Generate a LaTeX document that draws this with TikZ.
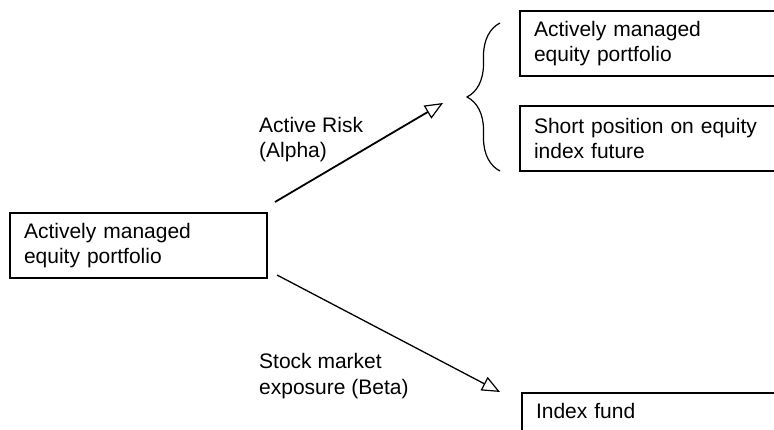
\documentclass[tikz,border=0pt]{standalone}
\usepackage{fontspec}
\setmainfont{Liberation Sans}
\usepackage{tikz}
\usetikzlibrary{arrows.meta,positioning,decorations.pathreplacing}

\begin{document}
\begin{tikzpicture}[
  x=1pt, y=-1pt,
  font=\fontsize{21}{25}\selectfont,
  box/.style={draw, line width=2pt, outer sep=0pt, anchor=north west, minimum height=65pt, minimum width=300pt, inner xsep=14pt, align=left, text width=272pt},
  lbl/.style={anchor=base west, inner sep=0pt, align=left},
  arr/.style={-{Triangle[open, length=18pt, width=15pt, line width=1.2pt]}, line width=1.8pt}
]
  \clip (0,0) rectangle (774,430);
  \node[box, minimum width=257pt, text width=229pt] (port) at (10,213) {Actively managed\\equity portfolio};
  \node[box] (act) at (520,11) {Actively managed\\equity portfolio};
  \node[box] (short) at (520,106) {Short position on equity\\index future};
  \node[box, text depth=29.4pt] (idx) at (522,393) {Index fund};
  % base anchor sits on the last line
  \node[lbl] (alpha) at (259,158) {Active Risk\\(Alpha)};
  \node[lbl] (beta) at (259,394) {Stock market\\exposure (Beta)};
  \coordinate (a0) at (275,202);
  \coordinate (a1) at (443,103);
  \coordinate (b0) at (277,275);
  \coordinate (b1) at (500,392);
  \coordinate (br0) at (500,171);
  \coordinate (br1) at (500,23);
  \draw[arr] (a0) -- (a1);
  \draw[arr, line width=1.3pt] (b0) -- (b1);
  \draw[line width=1.2pt, decorate, decoration={brace, amplitude=33pt}] (br0) -- (br1);
\end{tikzpicture}
\end{document}
